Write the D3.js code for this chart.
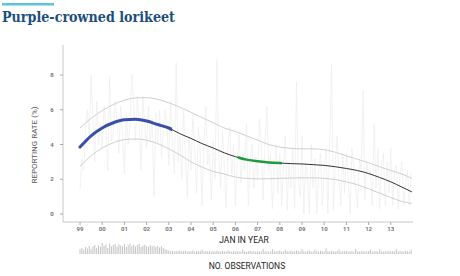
<!DOCTYPE html>
<html>
<head>
<meta charset="utf-8">
<script src="https://cdn.jsdelivr.net/npm/d3@7"></script>
<style>
  body { margin: 0; background: #fff; }
  svg { display: block; }
</style>
</head>
<body>
<script>
// chart data
const startYear = 1999;
const tickLabels = ["99", "00", "01", "02", "03", "04", "05", "06", "07", "08", "09", "10", "11", "12", "13"];
const yTicks = [0, 2, 4, 6, 8];

// monthly reporting rate (%), Jan 1999 .. Dec 2013
const monthlyRate = [
  1.4, 3.2, 2.5, 4.8, 6.0, 4.5, 8.0, 5.5, 3.0, 6.5, 4.0, 5.2,
  3.8, 6.2, 5.0, 2.5, 7.9, 4.2, 4.8, 6.5, 5.5, 3.5, 6.2, 4.5,
  2.3, 5.8, 4.0, 5.0, 8.0, 6.5, 4.2, 6.8, 5.3, 2.5, 6.8, 5.0,
  3.8, 6.2, 4.2, 5.5, 1.0, 5.8, 4.0, 6.0, 3.3, 4.8, 6.0, 5.2,
  2.8, 6.5, 4.0, 2.3, 8.7, 3.0, 4.5, 2.0, 6.0, 3.5, 1.0, 4.5,
  2.5, 5.8, 3.8, 1.2, 5.0, 3.5, 0.5, 4.0, 6.2, 2.8, 3.5, 0.8,
  4.2, 2.0, 8.9, 3.5, 1.5, 4.8, 2.8, 0.3, 3.8, 5.0, 2.2, 4.0,
  0.5, 3.2, 4.5, 1.8, 3.5, 2.5, 5.2, 0.5, 3.0, 4.0, 1.5, 3.3,
  2.0, 5.5, 3.8, 0.8, 4.2, 6.2, 2.5, 3.5, 0.3, 2.8, 4.0, 1.2,
  3.5, 0.5, 2.8, 4.5, 0.2, 3.0, 1.5, 3.8, 0.3, 7.6, 2.0, 1.0,
  4.5, 0.0, 3.0, 2.0, 0.0, 4.0, 1.5, 3.2, 0.0, 2.5, 3.5, 0.5,
  2.5, 3.8, 0.0, 4.2, 8.6, 0.2, 3.0, 4.5, 2.0, 0.5, 3.5, 1.2,
  3.5, 2.0, 0.0, 3.8, 2.5, 1.5, 0.3, 3.2, 2.5, 7.1, 0.8, 3.0,
  2.2, 2.5, 0.5, 5.2, 1.5, 3.8, 0.3, 2.8, 3.5, 0.5, 3.0, 1.2,
  3.8, 0.5, 2.5, 2.8, 0.3, 2.2, 3.0, 0.5, 1.8, 2.5, 0.5, 2.4
];

// monthly number of observations
const monthlyObs = [
  25, 30, 22, 35, 28, 40, 26, 38, 45, 30, 42, 35,
  55, 40, 48, 30, 52, 38, 45, 50, 36, 48, 42, 38,
  50, 35, 45, 52, 40, 48, 38, 44, 50, 35, 42, 46,
  40, 36, 44, 38, 42, 35, 40, 33, 38, 30, 24, 20,
  18, 14, 16, 12, 15, 14, 17, 12, 14, 16, 12, 14,
  13, 18, 12, 15, 13, 14, 22, 12, 15, 13, 14, 12,
  14, 12, 16, 13, 12, 15, 13, 12, 20, 14, 12, 13,
  12, 14, 13, 12, 22, 13, 12, 14, 16, 12, 13, 12,
  14, 12, 13, 26, 12, 14, 13, 12, 24, 14, 12, 16,
  18, 13, 12, 22, 14, 12, 16, 13, 12, 18, 14, 12,
  24, 13, 12, 14, 18, 12, 13, 22, 14, 12, 16, 13,
  12, 28, 14, 12, 16, 13, 12, 14, 24, 12, 13, 14,
  16, 12, 13, 14, 12, 26, 13, 14, 12, 16, 13, 12,
  14, 22, 12, 13, 14, 12, 24, 13, 12, 14, 13, 16,
  12, 14, 13, 24, 12, 14, 13, 12, 16, 14, 13, 22
];

// smoothed trend with confidence band
const trendYears = [1999, 1999.5, 2000, 2000.5, 2001, 2001.5, 2002, 2002.5, 2003, 2003.5,
  2004, 2004.5, 2005, 2005.5, 2006, 2006.5, 2007, 2007.5, 2008, 2008.5,
  2009, 2009.5, 2010, 2010.5, 2011, 2011.5, 2012, 2012.5, 2013, 2013.5, 2013.95];
const trendMid = [3.85, 4.5, 4.95, 5.25, 5.42, 5.45, 5.35, 5.15, 4.95, 4.62,
  4.35, 4.05, 3.8, 3.52, 3.3, 3.13, 3.03, 2.97, 2.93, 2.9,
  2.88, 2.84, 2.8, 2.72, 2.62, 2.5, 2.33, 2.1, 1.85, 1.55, 1.27];
const trendUpper = [4.95, 5.5, 5.95, 6.3, 6.55, 6.68, 6.7, 6.6, 6.4, 6.15,
  5.85, 5.55, 5.25, 4.95, 4.75, 4.5, 4.25, 4.0, 3.85, 3.78,
  3.75, 3.75, 3.7, 3.55, 3.35, 3.15, 2.95, 2.72, 2.5, 2.3, 2.05];
const trendLower = [2.75, 3.35, 3.8, 4.1, 4.28, 4.32, 4.25, 4.05, 3.75, 3.4,
  3.0, 2.7, 2.45, 2.3, 2.12, 2.05, 2.02, 2.03, 2.05, 2.07,
  2.08, 2.08, 2.05, 1.98, 1.85, 1.68, 1.45, 1.2, 0.95, 0.72, 0.6];

// highlighted stretches of the trend
const blueSpan = [1999, 2003.15];
const greenSpan = [2006.2, 2008.1];

const width = 460, height = 276;

const svg = d3.select("body").append("svg")
  .attr("width", width)
  .attr("height", height)
  .style("font-family", "Roboto, 'DejaVu Sans', sans-serif");

// header
svg.append("rect")
  .attr("x", 2).attr("y", 3)
  .attr("width", 52).attr("height", 2.5)
  .attr("fill", "#5bc3e0");

svg.append("text")
  .attr("x", 2).attr("y", 22)
  .style("font-family", "'DejaVu Serif', serif")
  .style("font-weight", "bold")
  .style("font-size", "14.5px")
  .attr("textLength", 173)
  .attr("lengthAdjust", "spacingAndGlyphs")
  .attr("fill", "#1d4f7c")
  .text("Purple-crowned lorikeet");

// scales
const x = d3.scaleLinear().domain([1999, 2014]).range([80, 413]);
const y = d3.scaleLinear().domain([0, 8]).range([214, 75]);

// axes lines
svg.append("line")
  .attr("x1", 63).attr("x2", 63)
  .attr("y1", 45).attr("y2", 222)
  .attr("stroke", "#c8c8c8");
svg.append("line")
  .attr("x1", 63).attr("x2", 413)
  .attr("y1", 222).attr("y2", 222)
  .attr("stroke", "#c8c8c8");

// y ticks
const yt = svg.append("g");
yTicks.forEach(v => {
  yt.append("line")
    .attr("x1", 60).attr("x2", 63)
    .attr("y1", y(v)).attr("y2", y(v))
    .attr("stroke", "#aaa");
  yt.append("text")
    .attr("x", 52).attr("y", y(v))
    .attr("dy", "0.35em")
    .attr("text-anchor", "middle")
    .style("font-size", "6px")
    .style("font-weight", "bold")
    .attr("fill", "#777")
    .text(v);
});

// x ticks
const xt = svg.append("g");
tickLabels.forEach((t, i) => {
  const xx = x(startYear + i);
  xt.append("line")
    .attr("x1", xx).attr("x2", xx)
    .attr("y1", 222).attr("y2", 225)
    .attr("stroke", "#aaa");
  xt.append("text")
    .attr("x", xx).attr("y", 231)
    .attr("text-anchor", "middle")
    .style("font-size", "6px")
    .style("font-weight", "bold")
    .attr("fill", "#777")
    .text(t);
});

// axis titles
svg.append("text")
  .attr("transform", "translate(37,145) rotate(-90)")
  .attr("text-anchor", "middle")
  .style("font-size", "8px")
  .attr("fill", "#555")
  .text("REPORTING RATE (%)");

svg.append("text")
  .attr("x", 244).attr("y", 243)
  .attr("text-anchor", "middle")
  .style("font-size", "8.5px")
  .attr("fill", "#222")
  .text("JAN IN YEAR");

svg.append("text")
  .attr("x", 247).attr("y", 269)
  .attr("text-anchor", "middle")
  .style("font-size", "8.5px")
  .attr("fill", "#222")
  .text("NO. OBSERVATIONS");

// raw monthly rate
const raw = monthlyRate.map((v, i) => [startYear + i / 12, v]);
svg.append("path")
  .datum(raw)
  .attr("fill", "none")
  .attr("stroke", "#ececec")
  .attr("stroke-width", 0.7)
  .attr("d", d3.line().x(d => x(d[0])).y(d => y(d[1])));

// confidence band and trend
const curve = d3.curveMonotoneX;
const mkLine = vals => d3.line().curve(curve)
  .x((d, i) => x(trendYears[i])).y(d => y(d))(vals);

svg.append("path").attr("d", mkLine(trendUpper))
  .attr("fill", "none").attr("stroke", "#cfcfcf").attr("stroke-width", 1);
svg.append("path").attr("d", mkLine(trendLower))
  .attr("fill", "none").attr("stroke", "#cfcfcf").attr("stroke-width", 1);
svg.append("path").attr("d", mkLine(trendMid))
  .attr("fill", "none").attr("stroke", "#333").attr("stroke-width", 1);

// highlighted parts: clip the same trend curve
const defs = svg.append("defs");
[["clipBlue", blueSpan], ["clipGreen", greenSpan]].forEach(([id, span]) => {
  defs.append("clipPath").attr("id", id)
    .append("rect")
    .attr("x", x(span[0]) - 2).attr("y", 0)
    .attr("width", x(span[1]) - x(span[0]) + 2).attr("height", height);
});
svg.append("path").attr("d", mkLine(trendMid))
  .attr("clip-path", "url(#clipBlue)")
  .attr("fill", "none").attr("stroke", "#3a4fa8").attr("stroke-width", 3)
  .attr("stroke-linecap", "round");
svg.append("path").attr("d", mkLine(trendMid))
  .attr("clip-path", "url(#clipGreen)")
  .attr("fill", "none").attr("stroke", "#1f9a3c").attr("stroke-width", 2.5);

// observation bars
const obsY = d3.scaleLinear().domain([0, d3.max(monthlyObs)]).range([0, 11]);
svg.append("g").selectAll("line")
  .data(monthlyObs)
  .join("line")
  .attr("x1", (d, i) => x(startYear + i / 12))
  .attr("x2", (d, i) => x(startYear + i / 12))
  .attr("y1", 254)
  .attr("y2", d => 254 - obsY(d))
  .attr("stroke", "#b4b4b4")
  .attr("stroke-width", 0.8);
</script>
</body>
</html>
